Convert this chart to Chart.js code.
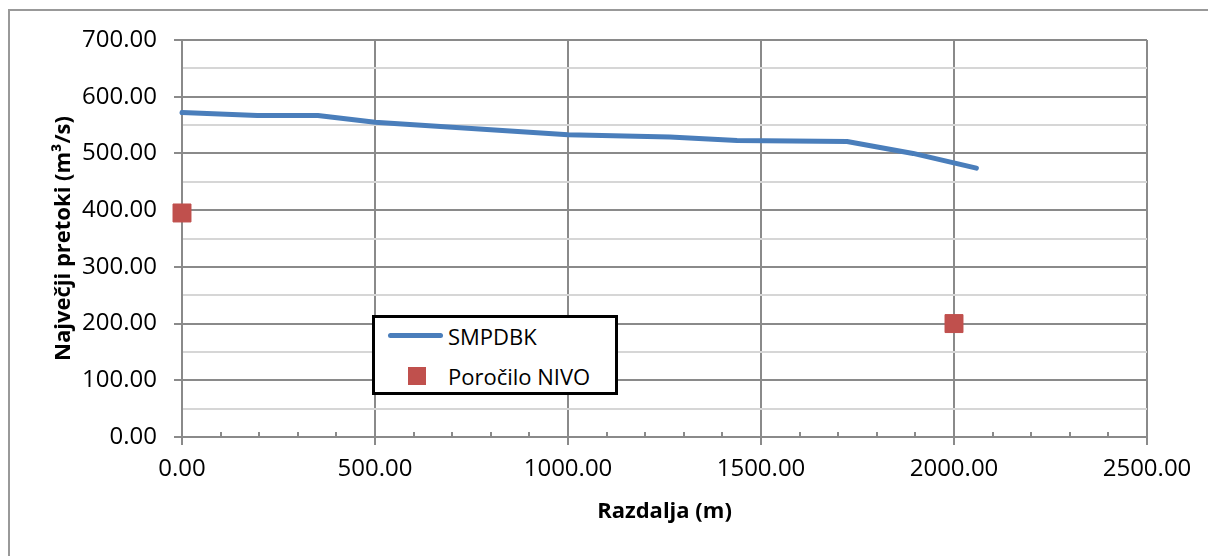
<!DOCTYPE html>
<html>
<head>
<meta charset="utf-8">
<script src="https://cdn.jsdelivr.net/npm/chart.js@4.4.1/dist/chart.umd.min.js"></script>
<style>
    body { margin: 0; background: #fff; }
    #wrap { position: relative; width: 1208px; height: 556px; overflow: hidden; font-family: "Open Sans", sans-serif; }
    #frame { position: absolute; left: 8px; top: 9px; width: 1400px; height: 800px; border-left: 2px solid #999; border-top: 2px solid #999; }
    canvas { position: absolute; left: 0; top: 0; }
    #legend { position: absolute; left: 372px; top: 315px; width: 240px; height: 74px; border: 3px solid #000; background: #fff; }
    .item { position: absolute; left: 0; height: 30px; width: 240px; }
    .item span { position: absolute; left: 73px; top: 0; line-height: 30px; font-size: 22px; color: #000; }
    .swatch-line { position: absolute; left: 13px; top: 12px; width: 55px; height: 5px; border-radius: 3px; }
    .swatch-box { position: absolute; left: 33px; top: 6px; width: 18px; height: 18px; }
</style>
</head>
<body>
<div id="wrap">
    <div id="frame"></div>
    <canvas id="chart" width="1208" height="556"></canvas>
    <div id="legend"></div>
</div>
<script>
// SMPDBK longitudinal profile of peak discharge
const smpdbkX = [0, 195, 352, 500, 1000, 1264, 1438, 1723, 1894, 2058];
const smpdbkY = [572, 567, 567, 555, 533, 529, 523, 521, 500, 474];

// report values (Poročilo NIVO)
const nivoX = [0, 2000];
const nivoY = [395, 200];

const seriesNames = ["SMPDBK", "Poročilo NIVO"];
const seriesColors = ["#4A7EBB", "#C0504D"];

const xTitle = "Razdalja (m)";
const yTitle = "Največji pretoki (m³/s)";

const MAJOR = "#8a8a8a";
const MINOR = "#d6d6d6";

// small inside tick marks on the x axis every 100 m
const minorTicks = {
    id: "minorTicks",
    beforeDatasetsDraw(chart) {
        const x = chart.scales.x;
        const c = chart.ctx;
        c.save();
        c.strokeStyle = MAJOR;
        c.lineWidth = 2;
        for (let v = 0; v <= 2500; v += 100) {
            const px = Math.round(x.getPixelForValue(v));
            c.beginPath();
            c.moveTo(px, x.top - 5);
            c.lineTo(px, x.top);
            c.stroke();
        }
        c.restore();
    }
};

const ctx = document.getElementById("chart").getContext("2d");

new Chart(ctx, {
    type: "scatter",
    data: {
        datasets: [
            {
                label: seriesNames[0],
                data: smpdbkX.map((x, i) => ({ x: x, y: smpdbkY[i] })),
                showLine: true,
                borderColor: seriesColors[0],
                borderWidth: 5,
                pointRadius: 0,
                borderCapStyle: "round",
                borderJoinStyle: "round",
                clip: false
            },
            {
                label: seriesNames[1],
                data: nivoX.map((x, i) => ({ x: x, y: nivoY[i] })),
                showLine: false,
                pointStyle: "rect",
                pointRadius: 12.7,
                backgroundColor: seriesColors[1],
                borderColor: seriesColors[1],
                borderWidth: 1,
                clip: false
            }
        ]
    },
    options: {
        responsive: false,
        animation: false,
        layout: { padding: { top: 40, right: 61, bottom: 0, left: 0 } },
        plugins: { legend: { display: false }, tooltip: { enabled: false } },
        scales: {
            x: {
                type: "linear",
                min: 0,
                max: 2500,
                afterFit: s => { s.height = 119; },
                border: { color: MAJOR, width: 2 },
                grid: {
                    lineWidth: 2,
                    color: c => c.tick && c.tick.value % 500 === 0 ? MAJOR : "rgba(0,0,0,0)",
                    tickColor: c => c.tick && c.tick.value % 500 === 0 ? MAJOR : "rgba(0,0,0,0)",
                    tickLength: 8
                },
                ticks: {
                    stepSize: 100,
                    autoSkip: false,
                    maxRotation: 0,
                    padding: 10,
                    color: "#000",
                    font: { family: "Open Sans", size: 24 },
                    callback: v => v % 500 === 0 ? v.toFixed(2) : ""
                },
                title: {
                    display: true,
                    text: xTitle,
                    color: "#000",
                    font: { family: "Open Sans", size: 22, weight: "bold" },
                    padding: { top: 31, bottom: 31 }
                }
            },
            y: {
                min: 0,
                max: 700,
                afterFit: s => { s.width = 182; },
                border: { color: MAJOR, width: 2 },
                grid: {
                    lineWidth: 2,
                    color: c => c.tick && c.tick.value % 100 === 0 ? MAJOR : MINOR,
                    tickColor: c => c.tick && c.tick.value % 100 === 0 ? MAJOR : "rgba(0,0,0,0)",
                    tickLength: 8
                },
                ticks: {
                    stepSize: 50,
                    autoSkip: false,
                    padding: 17,
                    color: "#000",
                    font: { family: "Open Sans", size: 24 },
                    callback: v => v % 100 === 0 ? v.toFixed(2) : ""
                },
                title: {
                    display: true,
                    text: yTitle,
                    color: "#000",
                    font: { family: "Open Sans", size: 22, weight: "bold" },
                    padding: { top: 51, bottom: 0 }
                }
            }
        }
    },
    plugins: [minorTicks]
});

// legend box inside the plot, like the Excel original
const legend = document.getElementById("legend");
seriesNames.forEach((name, i) => {
    const row = document.createElement("div");
    row.className = "item";
    row.style.top = (i === 0 ? 3 : 43) + "px";
    const sw = document.createElement("div");
    sw.className = i === 0 ? "swatch-line" : "swatch-box";
    sw.style.background = seriesColors[i];
    const txt = document.createElement("span");
    txt.textContent = name;
    row.appendChild(sw);
    row.appendChild(txt);
    legend.appendChild(row);
});
</script>
</body>
</html>
